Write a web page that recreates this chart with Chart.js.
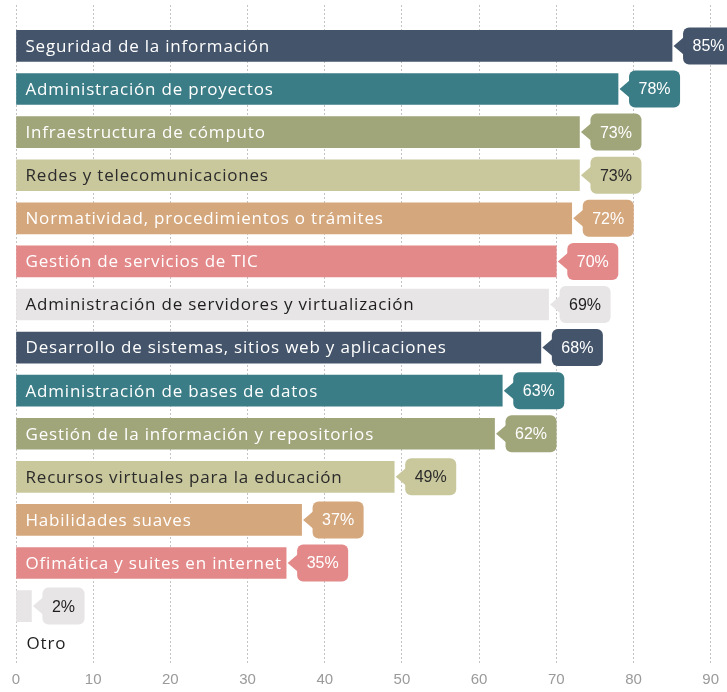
<!DOCTYPE html>
<html>
<head>
<meta charset="utf-8">
<script src="https://cdn.jsdelivr.net/npm/chart.js@4.4.1/dist/chart.umd.min.js"></script>
<style>
  html, body { margin: 0; padding: 0; background: #ffffff; }
  #wrap { width: 727px; height: 692px; position: relative; }
</style>
</head>
<body>
<div id="wrap"><canvas id="chart"></canvas></div>
<script>
const categories = [
  'Seguridad de la información',
  'Administración de proyectos',
  'Infraestructura de cómputo',
  'Redes y telecomunicaciones',
  'Normatividad, procedimientos o trámites',
  'Gestión de servicios de TIC',
  'Administración de servidores y virtualización',
  'Desarrollo de sistemas, sitios web y aplicaciones',
  'Administración de bases de datos',
  'Gestión de la información y repositorios',
  'Recursos virtuales para la educación',
  'Habilidades suaves',
  'Ofimática y suites en internet',
  'Otro'
];
const values = [85, 78, 73, 73, 72, 70, 69, 68, 63, 62, 49, 37, 35, 2];
const xTicks = [0, 10, 20, 30, 40, 50, 60, 70, 80, 90];

const palette = ['#44546a', '#3b7d86', '#a0a57a', '#c9c79c', '#d5a77c', '#e4898a', '#e7e5e6'];
const inkPalette = ['#ffffff', '#ffffff', '#ffffff', '#2b2b2b', '#ffffff', '#ffffff', '#1e1e1e'];
const barColors = categories.map((_, i) => palette[i % palette.length]);
const inkColors = categories.map((_, i) => inkPalette[i % inkPalette.length]);

const LABEL_FONT = '17px "Open Sans", sans-serif';
const VALUE_FONT = '16px "Liberation Sans", Arial, sans-serif';

// category names inside the bars and value tags after their ends
const barLabels = {
  id: 'barLabels',
  afterDatasetsDraw(chart) {
    const ctx = chart.ctx;
    const meta = chart.getDatasetMeta(0);
    const last = meta.data.length - 1;
    meta.data.forEach((bar, i) => {
      const { x, y, base } = bar.getProps(['x', 'y', 'base'], true);
      const fill = barColors[i];
      const ink = inkColors[i];
      const text = values[i] + '%';

      ctx.save();
      ctx.font = VALUE_FONT;
      const tw = ctx.measureText(text).width;
      const boxL = x + 11;
      const boxW = tw + 19;
      const h = 37;
      ctx.fillStyle = fill;
      ctx.beginPath();
      ctx.roundRect(boxL, y - h / 2, boxW, h, 6);
      ctx.fill();
      ctx.beginPath();
      ctx.moveTo(x + 1.5, y);
      ctx.lineTo(boxL + 1, y - 9);
      ctx.lineTo(boxL + 1, y + 9);
      ctx.closePath();
      ctx.fill();
      ctx.fillStyle = ink;
      ctx.textAlign = 'center';
      ctx.textBaseline = 'middle';
      ctx.fillText(text, boxL + boxW / 2, y + 1);

      ctx.font = LABEL_FONT;
      ctx.letterSpacing = '0.8px';
      ctx.textAlign = 'left';
      if (i === last) {
        ctx.fillStyle = '#1e1e1e';
        ctx.fillText(categories[i], base + 10, y + 38);
      } else {
        ctx.fillStyle = ink;
        ctx.fillText(categories[i], base + 9, y + 1);
      }
      ctx.restore();
    });
  }
};

new Chart(document.getElementById('chart'), {
  type: 'bar',
  data: {
    datasets: [{
      data: values.map((v, i) => ({ x: v, y: i })),
      backgroundColor: barColors,
      borderWidth: 0,
      barThickness: 31
    }]
  },
  options: {
    indexAxis: 'y',
    responsive: true,
    maintainAspectRatio: false,
    animation: false,
    layout: { padding: { left: 16, right: 12, top: 5, bottom: 3 } },
    plugins: {
      legend: { display: false },
      tooltip: { enabled: false }
    },
    scales: {
      x: {
        type: 'linear',
        min: xTicks[0],
        max: xTicks[xTicks.length - 1],
        afterBuildTicks(scale) {
          scale.ticks = xTicks.map(v => ({ value: v }));
        },
        afterFit(scale) {
          scale.height = 26;
        },
        grid: { color: '#c4c4c4', lineWidth: 1, drawTicks: false },
        border: { display: false, dash: [2, 2] },
        ticks: {
          color: '#9a9a9a',
          padding: 8,
          font: { family: '"Liberation Sans", Arial, sans-serif', size: 15 }
        }
      },
      y: {
        type: 'linear',
        reverse: true,
        offset: false,
        min: -0.95,
        max: 14.32,
        display: false
      }
    }
  },
  plugins: [barLabels]
});
</script>
</body>
</html>
